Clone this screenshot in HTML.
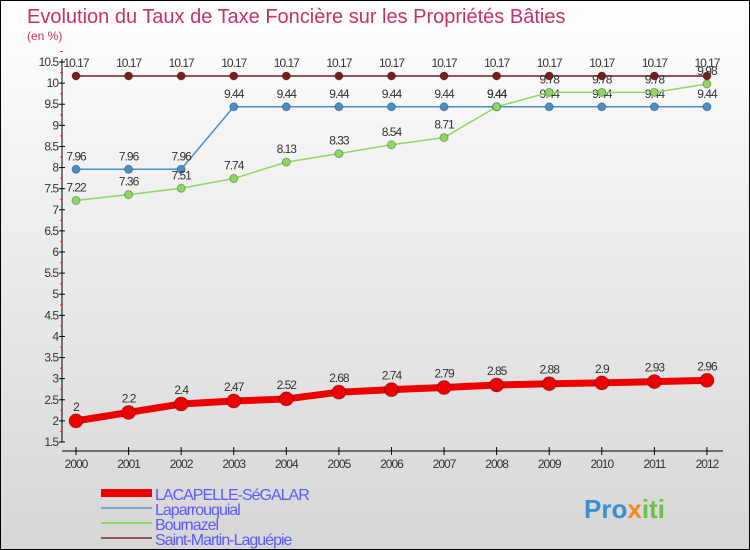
<!DOCTYPE html>
<html><head><meta charset="utf-8"><style>
body{margin:0}
#c{width:750px;height:550px;position:relative;box-sizing:border-box;border:1px solid #000;background:linear-gradient(#fff,#f2f2f2 30%,#d6d6d6);font-family:"Liberation Sans",sans-serif;overflow:hidden}
</style></head><body>
<div id="c">
<svg width="750" height="550" id="s">
<text x="26" y="22" font-size="20" fill="#c8306a">Evolution du Taux de Taxe Foncière sur les Propriétés Bâties</text>
<text x="26" y="39" font-size="12" fill="#c8306a">(en %)</text>
<text x="583" y="517" font-size="26" font-weight="bold" fill="#3a8fd0">Pro<tspan fill="#f08a1e">x</tspan><tspan fill="#6cc04a">iti</tspan></text>
</svg>
</div>
<script>
const years=[2000,2001,2002,2003,2004,2005,2006,2007,2008,2009,2010,2011,2012];
const lacapelle=[2,2.2,2.4,2.47,2.52,2.68,2.74,2.79,2.85,2.88,2.9,2.93,2.96];
const laparrouquial=[7.96,7.96,7.96,9.44,9.44,9.44,9.44,9.44,9.44,9.44,9.44,9.44,9.44];
const bournazel=[7.22,7.36,7.51,7.74,8.13,8.33,8.54,8.71,9.44,9.78,9.78,9.78,9.98];
const stmartin=[10.17,10.17,10.17,10.17,10.17,10.17,10.17,10.17,10.17,10.17,10.17,10.17,10.17];
const yTicks=[1.5,2,2.5,3,3.5,4,4.5,5,5.5,6,6.5,7,7.5,8,8.5,9,9.5,10,10.5];
const svg=document.getElementById('s');const NS='http://www.w3.org/2000/svg';
const X=i=>75+i*52.58;const Y=v=>441-(v-1.5)*42.22;
function el(t,a,p){const e=document.createElementNS(NS,t);for(const k in a)e.setAttribute(k,a[k]);(p||svg).appendChild(e);return e;}
let ax=el('line',{x1:61,y1:58,x2:61,y2:441,stroke:'#000'});


let xa=el('line',{x1:61,y1:450,x2:722,y2:450,stroke:'#000'});


yTicks.forEach(v=>{el('line',{x1:58,x2:64,y1:Y(v),y2:Y(v),stroke:'#000'});
el('line',{x1:59,x2:62,y1:Y(v)-10.5,y2:Y(v)-10.5,stroke:'#e33'});
const t=el('text',{x:57,y:Y(v)+4,'text-anchor':'end','font-size':12,fill:'#333','letter-spacing':'-1'});t.textContent=v;

});
years.forEach((y,i)=>{el('line',{x1:X(i),x2:X(i),y1:446,y2:454,stroke:'#000'});
const t=el('text',{x:X(i),y:467,'text-anchor':'middle','font-size':12,fill:'#333','letter-spacing':'-1'});t.textContent=y;

});
function series(d,col,w,r,name,dy){
const l=el('polyline',{points:d.map((v,i)=>X(i)+','+Y(v)).join(' '),fill:'none',stroke:col,'stroke-width':w});


d.forEach((v,i)=>{const c=el('circle',{cx:X(i),cy:Y(v),r:r,fill:col,stroke:'rgba(0,0,0,0.3)'});


const t=el('text',{x:X(i),y:Y(v)+dy,'text-anchor':'middle','font-size':12,fill:'#333','letter-spacing':'-1'});t.textContent=v;

});}
series(stmartin,'#7a1c1c',1.5,4,'saint-martin',-9);
series(laparrouquial,'#4a8fc8',1.5,4,'laparrouquial',-9);
series(bournazel,'#8ed860',1.5,4,'bournazel',-9);
series(lacapelle,'#ee0000',7,7,'lacapelle',-10);
const leg=[['LACAPELLE-SéGALAR','#ee0000',8],['Laparrouquial','#7aa8cc',2],['Bournazel','#8ed860',2],['Saint-Martin-Laguépie','#8a5a5a',2]];
const ly=[492,507,522,537];
leg.forEach((g,i)=>{const l=el('line',{x1:100,x2:151,y1:ly[i],y2:ly[i],stroke:g[1],'stroke-width':g[2]});


const t=el('text',{x:154,y:ly[i]+7,'font-size':16,fill:'#5a5aff','letter-spacing':'-1'});t.textContent=g[0];

});
</script>
</body></html>
